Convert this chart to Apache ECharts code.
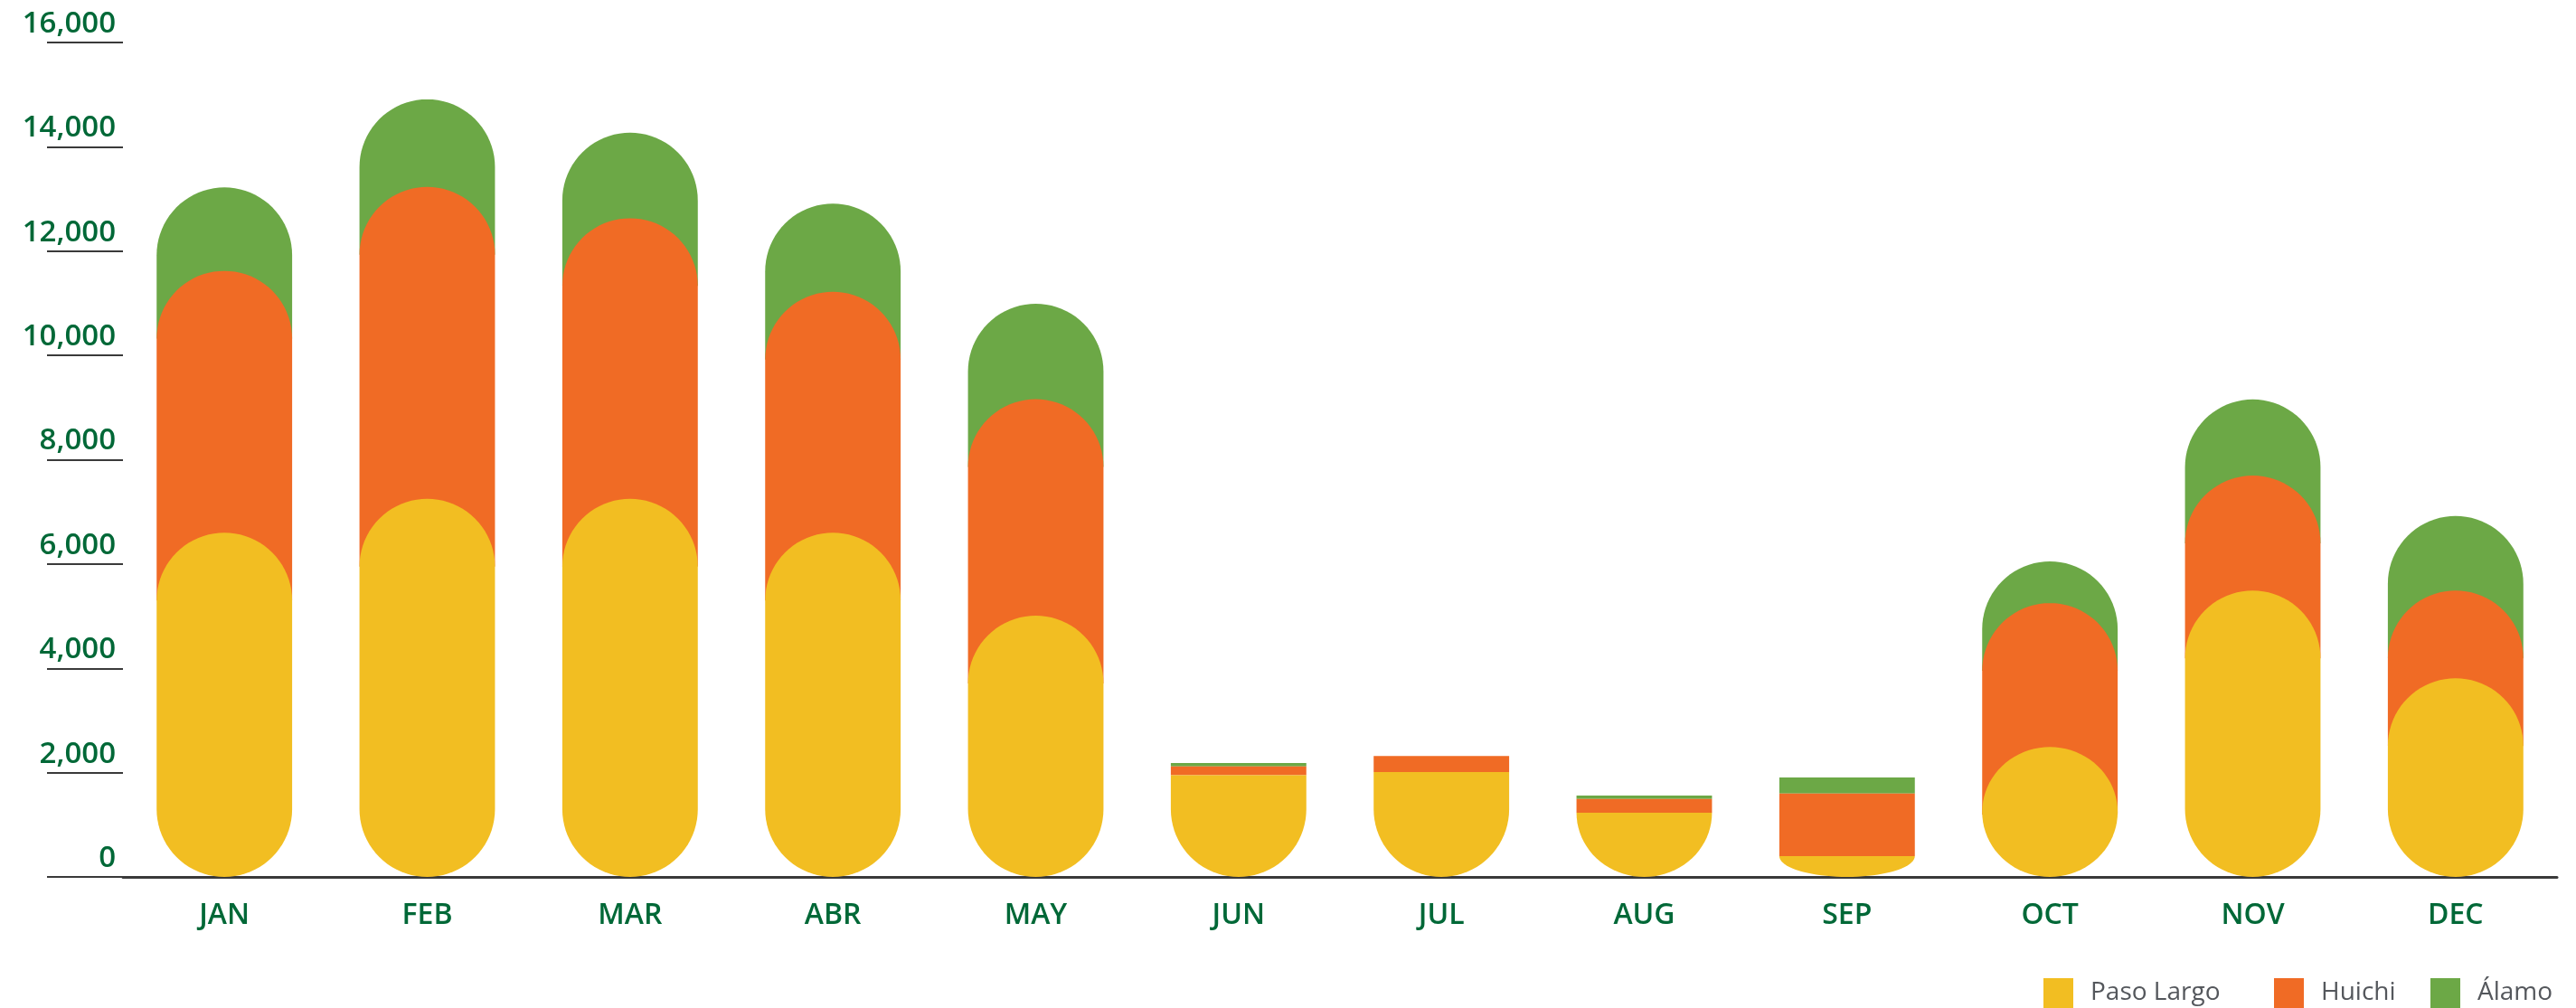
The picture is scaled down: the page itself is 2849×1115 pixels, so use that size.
<!DOCTYPE html>
<html>
<head>
<meta charset="utf-8">
<script src="https://cdn.jsdelivr.net/npm/echarts@6/dist/echarts.min.js"></script>
<style>
  html, body { margin: 0; padding: 0; background: #ffffff; }
  #chart { width: 2849px; height: 1115px; }
</style>
</head>
<body>
<div id="chart"></div>
<script>
// ---- data ----
const categories = ['JAN', 'FEB', 'MAR', 'ABR', 'MAY', 'JUN', 'JUL', 'AUG', 'SEP', 'OCT', 'NOV', 'DEC'];
const pasoLargo = [6600, 7250, 7250, 6600, 5010, 1950, 2010, 1230, 400, 2490, 5490, 3810];
const huichi    = [5020, 5980, 5380, 4620, 4150, 170, 310, 265, 1200, 2760, 2205, 1680];
const alamo     = [1600, 1680, 1640, 1690, 1830, 65, 0, 65, 305, 800, 1460, 1430];
const seriesNames = ['Paso Largo', 'Huichi', 'Álamo'];
const yTicks = [0, 2000, 4000, 6000, 8000, 10000, 12000, 14000, 16000];

const colors = ['#F2BE22', '#F06B25', '#6CA846'];
const seriesValues = [pasoLargo, huichi, alamo];
const legendLefts = [2260, 2515, 2688];

// stacked ranges [categoryIndex, base, top]
function stackedData(k) {
  return categories.map(function (c, i) {
    let base = 0;
    for (let j = 0; j < k; j++) base += seriesValues[j][i];
    return [i, base, base + seriesValues[k][i]];
  });
}

function makeRender(k) {
  return function (params, api) {
    const xi = api.value(0), base = api.value(1), top = api.value(2);
    if (top - base <= 0) return null;
    const pZero = api.coord([xi, 0]);
    const pBase = api.coord([xi, base]);
    const pTop = api.coord([xi, top]);
    const bandW = api.size([1, 0])[0];
    const w = bandW * 0.668;
    const r = w / 2;
    const cx = pZero[0];
    const x0 = cx - r, x1 = cx + r;
    const y0 = pZero[1];
    const hTop = y0 - pTop[1];
    const hBase = y0 - pBase[1];
    const TALL = 1.87 * r;
    const tall = hTop >= TALL;
    const N = 40;
    const pts = [];
    let yStart;
    if (k === 0) {
      const ryb = tall ? Math.min(r, hTop / 2) : Math.min(r, hTop);
      yStart = y0 - ryb;
      for (let s = 0; s <= N; s++) {
        const t = Math.PI * s / N;
        pts.push([cx - r * Math.cos(t), (y0 - ryb) + ryb * Math.sin(t)]);
      }
    } else {
      yStart = hBase >= TALL ? pBase[1] + r : pBase[1];
      pts.push([x0, yStart]);
      pts.push([x1, yStart]);
    }
    if (tall) {
      const rt = Math.min(r, Math.max(0, yStart - pTop[1]), hTop / 2);
      for (let s = 0; s <= N; s++) {
        const t = Math.PI * s / N;
        pts.push([cx + r * Math.cos(t), (pTop[1] + rt) - rt * Math.sin(t)]);
      }
    } else {
      pts.push([x1, pTop[1]]);
      pts.push([x0, pTop[1]]);
    }
    return {
      type: 'polygon',
      shape: { points: pts },
      style: { fill: colors[k] }
    };
  };
}

const series = seriesNames.map(function (name, k) {
  return {
    name: name,
    type: 'custom',
    z: 10 - k,
    itemStyle: { color: colors[k] },
    encode: { x: 0, y: [1, 2] },
    data: stackedData(k),
    renderItem: makeRender(k)
  };
});

const legends = seriesNames.map(function (name, k) {
  return {
    data: [name],
    left: legendLefts[k],
    top: 1082,
    padding: 0,
    icon: 'rect',
    itemWidth: 33,
    itemHeight: 33,
    textStyle: {
      fontFamily: 'Open Sans',
      fontSize: 28,
      color: '#54575c',
      padding: [0, 0, 0, 14]
    }
  };
});

const chart = echarts.init(document.getElementById('chart'), null, { renderer: 'canvas' });
chart.setOption({
  animation: false,
  backgroundColor: '#ffffff',
  grid: { left: 136, right: 21, top: 47, bottom: 145, containLabel: false },
  legend: legends,
  xAxis: {
    type: 'category',
    data: categories,
    boundaryGap: true,
    axisTick: { show: false },
    axisLine: { show: true, lineStyle: { color: '#3a3a3a', width: 3 } },
    axisLabel: {
      margin: 27,
      color: '#006837',
      fontFamily: 'Open Sans',
      fontWeight: 600,
      fontSize: 32
    },
    splitLine: { show: false }
  },
  yAxis: {
    type: 'value',
    min: yTicks[0],
    max: yTicks[yTicks.length - 1],
    interval: yTicks[1] - yTicks[0],
    axisLine: { show: false },
    axisTick: { show: true, inside: false, length: 84, lineStyle: { color: '#3a3a3a', width: 2 } },
    splitLine: { show: false },
    axisLabel: {
      margin: 8,
      align: 'right',
      verticalAlign: 'bottom',
      padding: [0, 0, 4, 0],
      color: '#006837',
      fontFamily: 'Open Sans',
      fontWeight: 600,
      fontSize: 33,
      formatter: function (v) { return v.toLocaleString('en-US'); }
    }
  },
  series: series
});
</script>
</body>
</html>
